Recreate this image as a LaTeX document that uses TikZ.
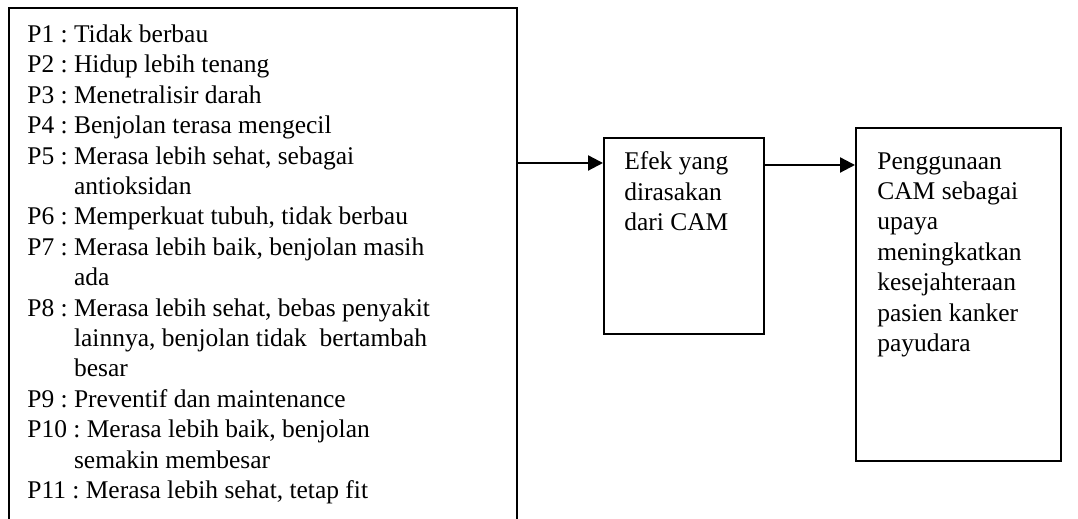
\documentclass[tikz,border=0pt]{standalone}
\usepackage{fontspec}
\setmainfont{Liberation Serif}
\usetikzlibrary{arrows.meta, positioning}
\tikzset{
  box/.style={rectangle, draw=black, line width=0.045cm, inner sep=0pt},
  txt/.style={anchor=north west, align=left, inner sep=0pt,
    font=\fontsize{14.5}{17.3}\selectfont\frenchspacing},
  arr/.style={-{Triangle[length=0.3cm, width=0.3cm]}, line width=0.045cm, black},
}
\newcommand{\cont}{\hphantom{P5 : }}

\begin{document}
\begin{tikzpicture}[x=0.02cm, y=-0.02cm]
  \useasboundingbox (0,0) rectangle (1078,519);
  \clip (0,0) rectangle (1078,519);
  % boxes
  \node[box, anchor=north west, minimum width=10.16cm, minimum height=10.6cm] (factors) at (8,7) {};
  \node[box, anchor=north west, minimum width=3.2cm, minimum height=3.92cm] (effect) at (603,137) {};
  \node[box, anchor=north west, minimum width=4.1cm, minimum height=6.66cm] (usage) at (855,127) {};
  % texts
  \node[txt] (factorslist) at (27,24.5) {P1 : Tidak berbau\\
    P2 : Hidup lebih tenang\\
    P3 : Menetralisir darah\\
    P4 : Benjolan terasa mengecil\\
    P5 : Merasa lebih sehat, sebagai\\
    \cont antioksidan\\
    P6 : Memperkuat tubuh, tidak berbau\\
    P7 : Merasa lebih baik, benjolan masih\\
    \cont ada\\
    P8 : Merasa lebih sehat, bebas penyakit\\
    \cont lainnya, benjolan tidak\ \ bertambah\\
    \cont besar\\
    P9 : Preventif dan maintenance\\
    P10 : Merasa lebih baik, benjolan\\
    \cont semakin membesar\\
    P11 : Merasa lebih sehat, tetap fit};
  \node[txt] (effecttext) at (624,151.5) {Efek yang\\ dirasakan\\ dari CAM};
  \node[txt] (usagetext) at (877,152) {Penggunaan\\ CAM sebagai\\ upaya\\ meningkatkan\\
    kesejahteraan\\ pasien kanker\\ payudara};
  % arrows
  \coordinate (effectin) at ([yshift=-0.52cm]effect.north west);
  \coordinate (usagein) at ([yshift=-0.56cm]effect.north east -| usage.west);
  \draw[arr] (factors.east |- effectin) -- (effectin);
  \draw[arr] (effect.east |- usagein) -- (usagein);
\end{tikzpicture}
\end{document}
